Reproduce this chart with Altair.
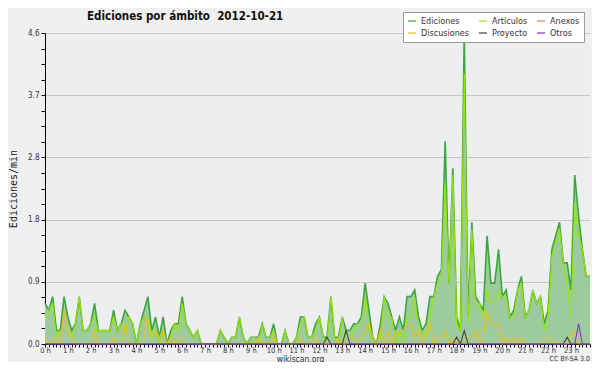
import altair as alt
import pandas as pd

# 10-minute slots of 2012-10-21 (0 = 00:00 ... 143 = 23:50)
slots = list(range(144))

series_names = ["Ediciones", "Artículos", "Anexos", "Discusiones", "Proyecto", "Otros"]
series_colors = ["#3aa83a", "#9be600", "#f07848", "#f0c010", "#444444", "#8a2be2"]

ediciones = [
    0.6, 0.5, 0.7, 0.2, 0.2, 0.7, 0.4, 0.2, 0.3, 0.7, 0.2, 0.2,
    0.3, 0.6, 0.2, 0.2, 0.2, 0.2, 0.5, 0.2, 0.3, 0.5, 0.4, 0.3,
    0.0, 0.3, 0.5, 0.7, 0.2, 0.4, 0.1, 0.4, 0.0, 0.2, 0.3, 0.3,
    0.7, 0.3, 0.2, 0.1, 0.2, 0.0, 0.0, 0.0, 0.0, 0.0, 0.2, 0.1,
    0.0, 0.1, 0.1, 0.4, 0.1, 0.0, 0.1, 0.1, 0.1, 0.3, 0.1, 0.1,
    0.3, 0.0, 0.0, 0.2, 0.0, 0.0, 0.1, 0.4, 0.4, 0.1, 0.1, 0.3,
    0.4, 0.1, 0.1, 0.7, 0.1, 0.1, 0.4, 0.2, 0.2, 0.3, 0.3, 0.4,
    0.9, 0.5, 0.1, 0.0, 0.3, 0.7, 0.6, 0.4, 0.2, 0.4, 0.2, 0.7,
    0.7, 0.8, 0.4, 0.2, 0.3, 0.7, 0.7, 1.0, 1.1, 3.0, 0.9, 2.6,
    0.4, 0.2, 4.6, 0.4, 1.8, 0.7, 0.6, 0.5, 1.6, 0.9, 0.9, 1.4,
    0.7, 0.8, 0.4, 0.5, 0.8, 1.0, 0.4, 0.5, 0.8, 0.6, 0.7, 0.3,
    0.5, 1.4, 1.6, 1.8, 1.2, 1.2, 0.8, 2.5, 1.9, 1.4, 1.0, 1.0,
]

articulos = [
    0.4, 0.5, 0.6, 0.1, 0.2, 0.2, 0.2, 0.1, 0.3, 0.7, 0.2, 0.2,
    0.3, 0.4, 0.2, 0.2, 0.2, 0.2, 0.4, 0.2, 0.3, 0.2, 0.4, 0.3,
    0.0, 0.3, 0.4, 0.3, 0.1, 0.2, 0.0, 0.2, 0.0, 0.1, 0.3, 0.2,
    0.6, 0.3, 0.2, 0.1, 0.2, 0.0, 0.0, 0.0, 0.0, 0.0, 0.2, 0.1,
    0.0, 0.1, 0.1, 0.4, 0.1, 0.0, 0.1, 0.1, 0.0, 0.3, 0.1, 0.1,
    0.2, 0.0, 0.0, 0.2, 0.0, 0.0, 0.1, 0.3, 0.4, 0.1, 0.1, 0.2,
    0.4, 0.1, 0.0, 0.7, 0.1, 0.0, 0.4, 0.0, 0.1, 0.2, 0.3, 0.3,
    0.7, 0.2, 0.0, 0.0, 0.1, 0.7, 0.4, 0.4, 0.0, 0.2, 0.0, 0.4,
    0.4, 0.7, 0.2, 0.2, 0.1, 0.4, 0.7, 0.9, 1.0, 2.4, 0.9, 2.5,
    0.3, 0.2, 4.0, 0.3, 1.7, 0.5, 0.6, 0.4, 0.8, 0.6, 0.6, 0.8,
    0.7, 0.7, 0.4, 0.4, 0.8, 0.9, 0.4, 0.5, 0.8, 0.6, 0.7, 0.2,
    0.4, 1.3, 1.5, 1.7, 1.2, 0.9, 0.4, 2.1, 1.6, 1.4, 1.0, 1.0,
]

discusiones = [
    0.1, 0.0, 0.1, 0.1, 0.0, 0.5, 0.2, 0.1, 0.0, 0.0, 0.0, 0.0,
    0.0, 0.2, 0.0, 0.0, 0.0, 0.0, 0.1, 0.0, 0.0, 0.3, 0.0, 0.0,
    0.0, 0.0, 0.1, 0.4, 0.1, 0.2, 0.1, 0.2, 0.0, 0.1, 0.0, 0.1,
    0.1, 0.0, 0.0, 0.0, 0.0, 0.0, 0.0, 0.0, 0.0, 0.0, 0.0, 0.0,
    0.0, 0.0, 0.0, 0.0, 0.0, 0.0, 0.0, 0.0, 0.1, 0.0, 0.0, 0.0,
    0.1, 0.0, 0.0, 0.0, 0.0, 0.0, 0.0, 0.1, 0.0, 0.0, 0.0, 0.1,
    0.0, 0.0, 0.0, 0.0, 0.0, 0.1, 0.0, 0.0, 0.1, 0.1, 0.0, 0.1,
    0.2, 0.3, 0.1, 0.0, 0.2, 0.0, 0.2, 0.0, 0.2, 0.2, 0.2, 0.3,
    0.3, 0.1, 0.2, 0.0, 0.2, 0.3, 0.0, 0.1, 0.1, 0.2, 0.0, 0.1,
    0.0, 0.0, 0.1, 0.1, 0.1, 0.2, 0.0, 0.1, 0.5, 0.3, 0.3, 0.3,
    0.0, 0.1, 0.0, 0.1, 0.0, 0.1, 0.0, 0.0, 0.0, 0.0, 0.0, 0.1,
    0.1, 0.1, 0.0, 0.0, 0.0, 0.0, 0.1, 0.2, 0.0, 0.0, 0.0, 0.0,
]

proyecto = [
    0.0, 0.0, 0.0, 0.0, 0.0, 0.0, 0.0, 0.0, 0.0, 0.0, 0.0, 0.0,
    0.0, 0.0, 0.0, 0.0, 0.0, 0.0, 0.0, 0.0, 0.0, 0.0, 0.0, 0.0,
    0.0, 0.0, 0.0, 0.0, 0.0, 0.0, 0.0, 0.0, 0.0, 0.0, 0.0, 0.0,
    0.0, 0.0, 0.0, 0.0, 0.0, 0.0, 0.0, 0.0, 0.0, 0.0, 0.0, 0.0,
    0.0, 0.0, 0.0, 0.0, 0.0, 0.0, 0.0, 0.0, 0.0, 0.0, 0.0, 0.0,
    0.0, 0.0, 0.0, 0.0, 0.0, 0.0, 0.0, 0.0, 0.0, 0.0, 0.0, 0.0,
    0.0, 0.0, 0.1, 0.0, 0.0, 0.0, 0.0, 0.2, 0.0, 0.0, 0.0, 0.0,
    0.0, 0.0, 0.0, 0.0, 0.0, 0.0, 0.0, 0.0, 0.0, 0.0, 0.0, 0.0,
    0.0, 0.0, 0.0, 0.0, 0.0, 0.0, 0.0, 0.0, 0.0, 0.0, 0.0, 0.0,
    0.1, 0.0, 0.2, 0.0, 0.0, 0.0, 0.0, 0.0, 0.0, 0.0, 0.0, 0.0,
    0.0, 0.0, 0.0, 0.0, 0.0, 0.0, 0.0, 0.0, 0.0, 0.0, 0.0, 0.0,
    0.0, 0.0, 0.0, 0.0, 0.0, 0.1, 0.0, 0.0, 0.0, 0.0, 0.0, 0.0,
]

otros = [
    0.0, 0.0, 0.0, 0.0, 0.0, 0.0, 0.0, 0.0, 0.0, 0.0, 0.0, 0.0,
    0.0, 0.0, 0.0, 0.0, 0.0, 0.0, 0.0, 0.0, 0.0, 0.0, 0.0, 0.0,
    0.0, 0.0, 0.0, 0.0, 0.0, 0.0, 0.0, 0.0, 0.0, 0.0, 0.0, 0.0,
    0.0, 0.0, 0.0, 0.0, 0.0, 0.0, 0.0, 0.0, 0.0, 0.0, 0.0, 0.0,
    0.0, 0.0, 0.0, 0.0, 0.0, 0.0, 0.0, 0.0, 0.0, 0.0, 0.0, 0.0,
    0.0, 0.0, 0.0, 0.0, 0.0, 0.0, 0.0, 0.0, 0.0, 0.0, 0.0, 0.0,
    0.0, 0.0, 0.0, 0.0, 0.0, 0.0, 0.0, 0.0, 0.0, 0.0, 0.0, 0.0,
    0.0, 0.0, 0.0, 0.0, 0.0, 0.0, 0.0, 0.0, 0.0, 0.0, 0.0, 0.0,
    0.0, 0.0, 0.0, 0.0, 0.0, 0.0, 0.0, 0.0, 0.0, 0.0, 0.0, 0.0,
    0.0, 0.0, 0.0, 0.0, 0.0, 0.0, 0.0, 0.0, 0.0, 0.0, 0.0, 0.0,
    0.0, 0.0, 0.0, 0.0, 0.0, 0.0, 0.0, 0.0, 0.0, 0.0, 0.0, 0.0,
    0.0, 0.0, 0.0, 0.0, 0.0, 0.0, 0.0, 0.0, 0.3, 0.0, 0.0, 0.0,
]

y_ticks = [0.0, 0.23, 0.46, 0.69, 0.92, 1.15, 1.38, 1.61, 1.84, 2.07, 2.3,
           2.53, 2.76, 2.99, 3.22, 3.45, 3.68, 3.91, 4.14, 4.37, 4.6]

FONT = "DejaVu Sans Condensed, DejaVu Sans"

rows = []
for name, vals in [("Ediciones", ediciones), ("Artículos", articulos),
                   ("Discusiones", discusiones), ("Proyecto", proyecto),
                   ("Otros", otros)]:
    for s, v in zip(slots, vals):
        rows.append({"serie": name, "slot": s, "v": v})
df = pd.DataFrame(rows)

x_enc = alt.X(
    "slot:Q",
    scale=alt.Scale(domain=[0, 143], nice=False, zero=False),
    axis=alt.Axis(
        values=slots,
        labelExpr="datum.value % 6 == 0 ? (datum.value / 6) + ' h' : ''",
        labelOverlap=False, labelFlush=False, labelBound=False,
        tickSize=3, labelPadding=-1, labelFontSize=7.5, grid=False,
        title="wikiscan.org", titleX=255, titleY=17,
        titleBaseline="alphabetic", titleAlign="center",
        titleFont=FONT, titleFontSize=8.5, titleFontWeight="normal",
        titleColor="#333333",
    ),
)
y_enc = alt.Y(
    "v:Q",
    scale=alt.Scale(domain=[0, 4.6], nice=False, zero=True),
    axis=alt.Axis(
        values=y_ticks,
        labelExpr="round(datum.value / 0.23) % 4 == 0 ? format(datum.value, '.1f') : ''",
        labelOverlap=False, labelFlush=False, labelBound=False,
        tickSize=4, labelPadding=2,
        grid=True, gridColor="#c8c8c8",
        gridOpacity={"condition": {"test": "round(datum.value / 0.23) % 4 == 0 && datum.value > 0",
                                   "value": 1}, "value": 0},
        title="Ediciones/min", titleFont="DejaVu Sans Mono", titleFontSize=10,
        titleFontWeight="normal", titleColor="#222222", titlePadding=9,
    ),
)

color_enc = alt.Color(
    "serie:N",
    scale=alt.Scale(domain=series_names, range=series_colors),
    legend=alt.Legend(
        title=None, orient="none", legendX=358, legendY=-21,
        columns=3, direction="horizontal",
        symbolType="stroke", symbolSize=64, symbolStrokeWidth=1.2,
        labelFont=FONT, labelFontSize=9, labelColor="#333333",
        fillColor="#ffffff", strokeColor="#999999",
        padding=4, rowPadding=2, columnPadding=6, labelOffset=4,
    ),
)

area = alt.Chart(df).transform_filter(
    alt.datum.serie == "Ediciones"
).mark_area(color="#9ecb9e", opacity=1, interpolate="linear").encode(x=x_enc, y=y_enc)

line_total = alt.Chart(df).transform_filter(
    alt.datum.serie == "Ediciones"
).mark_line(strokeWidth=1.6).encode(x=x_enc, y=y_enc, color=color_enc)

line_rest = alt.Chart(df).transform_filter(
    alt.datum.serie != "Ediciones"
).mark_line(strokeWidth=1.1).encode(
    x=x_enc, y=y_enc, color=color_enc,
    order=alt.Order("slot:Q"),
)

credit = alt.Chart(pd.DataFrame({"txt": ["CC BY-SA 3.0"]})).mark_text(
    align="right", baseline="alphabetic", font=FONT, fontSize=7, color="#333333"
).encode(text="txt:N", x=alt.value(545), y=alt.value(328))

chart = alt.layer(area, line_total, line_rest, credit).properties(
    width=545, height=311,
    autosize=alt.AutoSizeParams(type="none"),
    padding={"left": 37, "top": 25, "right": 2, "bottom": 18},
    title=alt.Title(
        "Ediciones por ámbito \u00a02012-10-21",
        anchor="start", frame="group", dx=42, dy=17, offset=6,
        font=FONT, fontSize=11.5, fontWeight="bold", color="#111111",
    ),
).configure(
    background="#f0f0f0",
).configure_view(
    fill="#eceef0", stroke=None,
).configure_axis(
    domainColor="#000000", domainWidth=1, tickColor="#000000",
    labelFont=FONT, labelFontSize=8, labelColor="#333333",
    zindex=1,
)

chart.save("out.html", embed_options={"renderer": "svg", "actions": False})
